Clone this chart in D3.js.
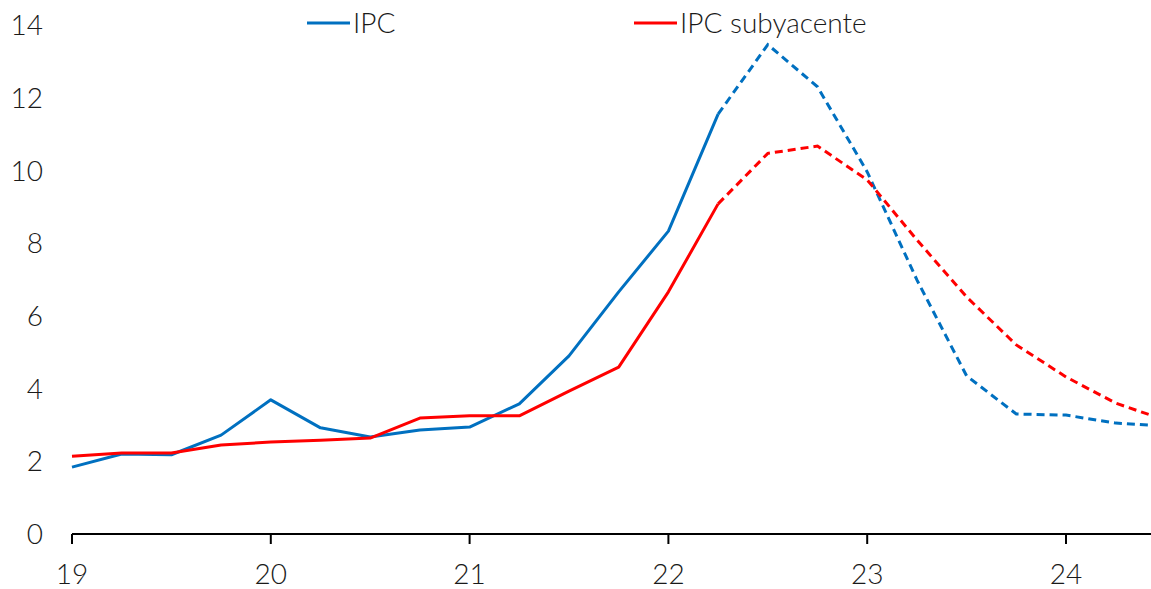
<!DOCTYPE html>
<html>
<head>
<meta charset="utf-8">
<script src="https://cdn.jsdelivr.net/npm/d3@7"></script>
<style>
  body { margin: 0; background: #fff; }
  text { font-family: Lato, "Open Sans", sans-serif; font-weight: 300; fill: #1a1a1a; }
</style>
</head>
<body>
<div id="chart"></div>
<script>
let screen = {width: 1151, height: 589};

// quarters as fractional years (19 = 2019)
let periods = [19, 19.25, 19.5, 19.75, 20, 20.25, 20.5, 20.75, 21, 21.25, 21.5, 21.75,
               22, 22.25, 22.5, 22.75, 23, 23.25, 23.5, 23.75, 24, 24.25, 24.5];
let ipc = [1.84, 2.2, 2.18, 2.72, 3.69, 2.92, 2.67, 2.86, 2.94, 3.58, 4.9, 6.66,
           8.33, 11.55, 13.46, 12.3, 9.96, 6.99, 4.35, 3.3, 3.27, 3.05, 2.97];
let core = [2.14, 2.23, 2.23, 2.45, 2.53, 2.58, 2.64, 3.19, 3.25, 3.25, 3.93, 4.59,
            6.66, 9.08, 10.47, 10.67, 9.74, 8.09, 6.52, 5.2, 4.32, 3.6, 3.13];
let lastObserved = 13; // index where forecast (dashed) starts
let yearTicks = [19, 20, 21, 22, 23, 24];
let yTicks = [0, 2, 4, 6, 8, 10, 12, 14];
let seriesNames = ["IPC", "IPC subyacente"];
let colors = ["#0070C0", "#FF0000"];

let xScale = d3.scaleLinear().domain([19, 24]).range([72, 1066]);
let yScale = d3.scaleLinear().domain([0, 14]).range([534, 25]);

let svg = d3.select("#chart").append("svg")
    .attr("width", screen.width)
    .attr("height", screen.height);

svg.append("defs").append("clipPath").attr("id", "plot")
    .append("rect").attr("x", 0).attr("y", 0).attr("width", 1151).attr("height", 589);

// y labels (no axis line)
svg.selectAll(".ylab")
    .data(yTicks)
    .enter()
    .append("text")
    .attr("class", "ylab")
    .attr("x", 43)
    .attr("y", d => yScale(d))
    .attr("dy", "0.36em")
    .attr("text-anchor", "end")
    .style("font-size", "28px")
    .text(d => d);

// x axis
let xAxis = svg.append("g")
    .attr("transform", "translate(0," + yScale(0) + ")");
xAxis.append("line")
    .attr("x1", xScale(19)).attr("x2", 1151)
    .attr("stroke", "#000").attr("stroke-width", 2);
xAxis.selectAll(".tick")
    .data(yearTicks)
    .enter()
    .append("line")
    .attr("x1", d => xScale(d)).attr("x2", d => xScale(d))
    .attr("y1", 0).attr("y2", 10)
    .attr("stroke", "#000").attr("stroke-width", 2);
xAxis.selectAll(".xlab")
    .data(yearTicks)
    .enter()
    .append("text")
    .attr("x", d => xScale(d))
    .attr("y", 50)
    .attr("text-anchor", "middle")
    .style("font-size", "28px")
    .text(d => d);

let line = d3.line()
    .x(d => xScale(d[0]))
    .y(d => yScale(d[1]));

let plot = svg.append("g").attr("clip-path", "url(#plot)");

[ipc, core].forEach(function(vals, s) {
    let pts = periods.map((p, i) => [p, vals[i]]);
    plot.append("path")
        .datum(pts.slice(0, lastObserved + 1))
        .attr("d", line)
        .attr("fill", "none")
        .attr("stroke", colors[s])
        .attr("stroke-width", 3)
        .attr("stroke-linejoin", "round");
    plot.append("path")
        .datum(pts.slice(lastObserved))
        .attr("d", line)
        .attr("fill", "none")
        .attr("stroke", colors[s])
        .attr("stroke-width", 3)
        .attr("stroke-dasharray", "8,5");
});

// legend
let legendX = [307, 634];
let legend = svg.selectAll(".legend")
    .data(seriesNames)
    .enter()
    .append("g")
    .attr("transform", (d, i) => "translate(" + legendX[i] + ",23)");
legend.append("line")
    .attr("x1", 0).attr("x2", 43)
    .attr("stroke", (d, i) => colors[i])
    .attr("stroke-width", 3);
legend.append("text")
    .attr("x", 46)
    .attr("dy", "0.36em")
    .style("font-size", "28px")
    .text(d => d);
</script>
</body>
</html>
